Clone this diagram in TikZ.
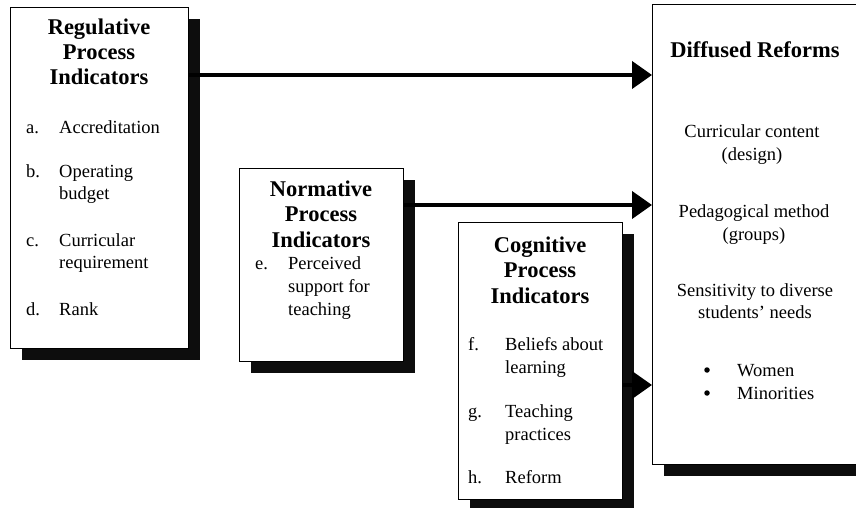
\documentclass[tikz,border=0pt]{standalone}
\usepackage{fontspec}
\setmainfont{Liberation Serif}
\usetikzlibrary{arrows.meta,shadows}
\begin{document}
\begin{tikzpicture}[x=1pt,y=-1pt,
  box/.style={draw=black, line width=1.2pt, fill=white, anchor=north west, inner sep=0pt,
    drop shadow={shadow xshift=11pt, shadow yshift=-11pt, fill=black!95, opacity=1}},
  ttl/.style={font=\fontsize{22.5}{25}\selectfont\bfseries, anchor=base, inner sep=0pt},
  itm/.style={font=\fontsize{18.5}{22}\selectfont, anchor=base west, inner sep=0pt},
  ctr/.style={font=\fontsize{18.5}{22}\selectfont, anchor=base, inner sep=0pt},
  bul/.style={circle, fill=black, inner sep=0pt, minimum size=5.5pt},
  arr/.style={line width=4pt, -{Triangle[length=20pt,width=27pt]}},
]
\useasboundingbox (0,0) rectangle (856,508);
\clip (0,0) rectangle (856,508);

% boxes
\node[box, minimum width=178pt, minimum height=341pt] (reg) at (10,7) {};
\node[box, minimum width=164pt, minimum height=193pt] (nor) at (239,168) {};
\node[box, minimum width=164pt, minimum height=277pt] (cog) at (458,222) {};
\node[box, minimum width=214pt, minimum height=460pt] (dif) at (652,4) {};

% Regulative
\node[ttl] (r1) at (99,35) {Regulative};
\node[ttl] (r2) at (99,60) {Process};
\node[ttl] (r3) at (99,85) {Indicators};
\node[itm] (ra) at (26,134) {a.};
\node[itm] (rat) at (59,134) {Accreditation};
\node[itm] (rb) at (26,177) {b.};
\node[itm] (rbt) at (59,177) {Operating};
\node[itm] (rbt2) at (59,199) {budget};
\node[itm] (rc) at (26,246) {c.};
\node[itm] (rct) at (59,246) {Curricular};
\node[itm] (rct2) at (59,268) {requirement};
\node[itm] (rd) at (26,315) {d.};
\node[itm] (rdt) at (59,315) {Rank};

% Normative
\node[ttl] (n1) at (321,196) {Normative};
\node[ttl] (n2) at (321,221) {Process};
\node[ttl] (n3) at (321,247) {Indicators};
\node[itm] (ne) at (255,269) {e.};
\node[itm] (net) at (288,269) {Perceived};
\node[itm] (net2) at (288,292) {support for};
\node[itm] (net3) at (288,315) {teaching};

% Cognitive
\node[ttl] (c1) at (540,252) {Cognitive};
\node[ttl] (c2) at (540,277) {Process};
\node[ttl] (c3) at (540,303) {Indicators};
\node[itm] (cf) at (468,350) {f.};
\node[itm] (cft) at (505,350) {Beliefs about};
\node[itm] (cft2) at (505,373) {learning};
\node[itm] (cg) at (468,417) {g.};
\node[itm] (cgt) at (505,417) {Teaching};
\node[itm] (cgt2) at (505,440) {practices};
\node[itm] (ch) at (468,483) {h.};
\node[itm] (cht) at (505,483) {Reform};

% Diffused
\node[ttl] (d1) at (755,58) {Diffused Reforms};
\node[ctr] (d2) at (752,137) {Curricular content};
\node[ctr] (d3) at (752,160) {(design)};
\node[ctr] (d4) at (754,217) {Pedagogical method};
\node[ctr] (d5) at (754,240) {(groups)};
\node[ctr] (d6) at (755,296) {Sensitivity to diverse};
\node[ctr] (d7) at (755,318) {students’ needs};
\node[bul] (db1) at (707,370) {};
\node[itm] (dw) at (737,376) {Women};
\node[bul] (db2) at (707,393) {};
\node[itm] (dm) at (737,399) {Minorities};

% arrows
\coordinate (y1) at (0,75);
\coordinate (y2) at (0,205);
\coordinate (y3) at (0,385);
\draw[arr] (reg.east |- y1) -- (dif.west |- y1);
\draw[arr] (nor.east |- y2) -- (dif.west |- y2);
\draw[arr] (cog.east |- y3) -- (dif.west |- y3);
\end{tikzpicture}
\end{document}
